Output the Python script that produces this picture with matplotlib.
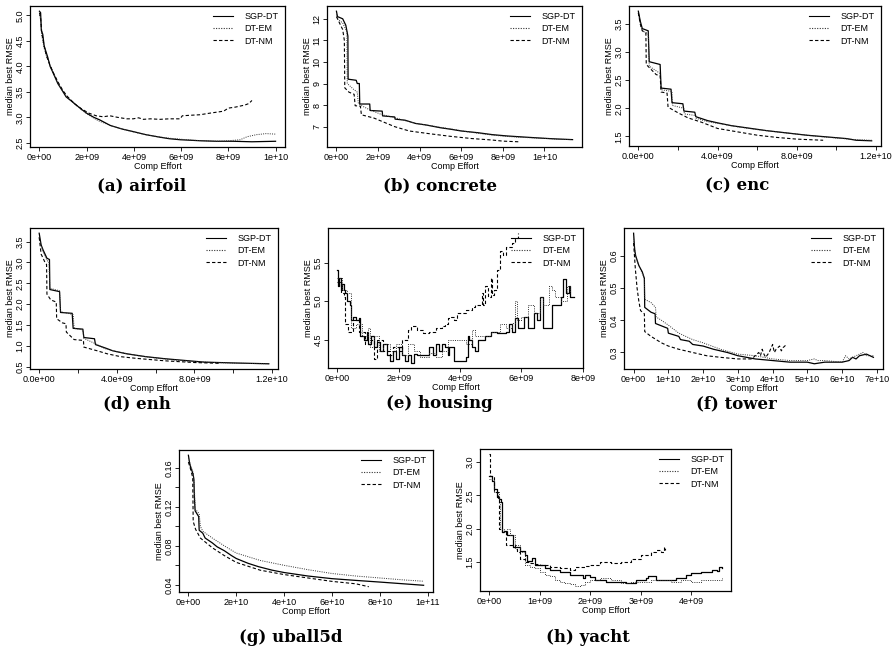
import matplotlib
matplotlib.use('Agg')
import matplotlib.pyplot as plt
import numpy as np

# Figure size in pixels (saved at 100 dpi)
W, H = 893, 650

# ---------------------------------------------------------------
# Data: (comp effort, median best RMSE).
# Comp effort is in units of 1e9 (uball5d: 1e10).
# Repeated x values mark the vertical drops of the step curves.
# ---------------------------------------------------------------
series_labels = ['SGP-DT', 'DT-EM', 'DT-NM']

# (a) airfoil
airfoil_sgp = [(0, 5.08), (0.05, 5.05), (0.08, 4.7), (0.14, 4.63), (0.2, 4.4), (0.24, 4.34),
               (0.35, 4.18), (0.45, 4.0), (0.57, 3.88), (0.78, 3.66), (1.0, 3.5), (1.13, 3.4),
               (1.35, 3.32), (1.56, 3.24), (1.8, 3.15), (2.0, 3.08), (2.3, 3.0), (2.55, 2.95),
               (3.0, 2.84), (3.5, 2.77), (3.97, 2.72), (4.5, 2.66), (5.1, 2.61), (5.5, 2.58),
               (5.96, 2.56), (6.4, 2.55), (6.8, 2.54), (7.5, 2.53), (8.2, 2.53), (9.0, 2.52),
               (10.0, 2.53)]
airfoil_em = [(0, 5.0), (0.06, 4.9), (0.1, 4.6), (0.2, 4.35), (0.3, 4.2), (0.45, 4.02),
              (0.6, 3.86), (0.8, 3.66), (1.0, 3.5), (1.2, 3.38), (1.5, 3.26), (1.8, 3.14),
              (2.1, 3.04), (2.5, 2.93), (3.0, 2.84), (3.5, 2.77), (4.0, 2.71), (4.5, 2.66),
              (5.0, 2.62), (5.5, 2.59), (6.0, 2.57), (6.5, 2.55), (7.0, 2.54), (7.5, 2.53),
              (8.0, 2.54), (8.5, 2.56), (8.8, 2.62), (9.2, 2.66), (9.6, 2.68), (10.0, 2.67)]
airfoil_nm = [(0, 5.05), (0.05, 4.95), (0.1, 4.65), (0.2, 4.4), (0.3, 4.2), (0.45, 4.02),
              (0.6, 3.86), (0.8, 3.68), (1.0, 3.52), (1.2, 3.4), (1.5, 3.26), (1.8, 3.16),
              (2.1, 3.08), (2.4, 3.03), (2.7, 3.01), (2.98, 3.03), (3.3, 3.0), (3.7, 2.97),
              (3.97, 2.97), (4.2, 2.99), (4.4, 2.96), (4.7, 2.97), (5.1, 2.96), (5.5, 2.97),
              (5.96, 2.97), (6.05, 3.03), (6.4, 3.04), (6.8, 3.05), (7.2, 3.08), (7.5, 3.1),
              (7.8, 3.12), (8.0, 3.18), (8.3, 3.2), (8.5, 3.22), (8.7, 3.24), (8.87, 3.27),
              (9.0, 3.33)]

# (b) concrete
concrete_sgp = [(0, 12.35), (0.05, 12.1), (0.3, 12.0), (0.45, 11.7), (0.55, 11.2), (0.56, 9.2),
                (0.95, 9.15), (1.0, 9.0), (1.1, 9.0), (1.12, 8.05), (1.6, 8.05), (1.62, 7.75),
                (2.2, 7.72), (2.22, 7.5), (2.8, 7.45), (2.82, 7.35), (3.3, 7.3), (3.8, 7.15),
                (4.3, 7.08), (5.0, 6.95), (5.5, 6.88), (6.0, 6.8), (6.8, 6.72), (7.5, 6.63),
                (8.2, 6.57), (9.0, 6.52), (10.0, 6.46), (10.6, 6.43), (11.35, 6.4)]
concrete_em = [(0, 12.2), (0.05, 12.0), (0.3, 11.8), (0.5, 11.4), (0.52, 9.0), (0.8, 8.75),
               (1.0, 8.6), (1.05, 8.1), (1.15, 8.0), (1.6, 7.78), (2.2, 7.55), (2.8, 7.42),
               (3.3, 7.28), (3.8, 7.15), (4.5, 7.05), (5.0, 6.97), (5.6, 6.88), (6.2, 6.78),
               (7.0, 6.67), (7.6, 6.6), (8.3, 6.54), (9.0, 6.5), (10.0, 6.46), (10.6, 6.42),
               (11.3, 6.4)]
concrete_nm = [(0, 12.1), (0.1, 11.9), (0.3, 11.5), (0.38, 11.0), (0.4, 8.8), (0.6, 8.6),
               (0.85, 8.5), (0.9, 7.97), (1.15, 7.95), (1.2, 7.55), (1.8, 7.4), (2.3, 7.2),
               (2.8, 7.0), (3.5, 6.8), (4.5, 6.67), (5.5, 6.55), (6.5, 6.45), (7.5, 6.38),
               (8.0, 6.33), (8.75, 6.3)]

# (c) enc
enc_sgp = [(0, 3.73), (0.1, 3.55), (0.2, 3.42), (0.5, 3.38), (0.55, 2.83), (1.1, 2.78),
           (1.15, 2.36), (1.65, 2.34), (1.7, 2.1), (2.25, 2.08), (2.3, 1.95), (2.85, 1.93),
           (2.9, 1.85), (3.5, 1.78), (4.0, 1.74), (4.7, 1.69), (5.5, 1.65), (6.5, 1.6),
           (7.5, 1.56), (8.5, 1.52), (9.5, 1.49), (10.5, 1.46), (11.0, 1.43), (11.78, 1.42)]
enc_em = [(0, 3.7), (0.1, 3.5), (0.2, 3.38), (0.5, 3.32), (0.55, 2.75), (1.1, 2.62),
          (1.15, 2.33), (1.7, 2.3), (1.72, 2.05), (2.3, 2.0), (2.32, 1.9), (2.9, 1.87),
          (2.92, 1.82), (3.5, 1.76), (4.2, 1.72), (5.0, 1.67), (6.0, 1.62), (7.0, 1.58),
          (8.0, 1.54), (9.0, 1.5), (10.0, 1.47), (11.0, 1.44), (11.78, 1.43)]
enc_nm = [(0, 3.7), (0.1, 3.5), (0.2, 3.38), (0.38, 3.35), (0.4, 2.78), (0.9, 2.6), (1.1, 2.58),
          (1.15, 2.29), (1.45, 2.27), (1.5, 2.02), (2.0, 1.92), (2.5, 1.83), (3.2, 1.75),
          (4.0, 1.64), (5.0, 1.58), (6.0, 1.52), (7.0, 1.48), (8.0, 1.45), (9.33, 1.43)]

# (d) enh
enh_sgp = [(0, 3.7), (0.1, 3.42), (0.2, 3.3), (0.4, 3.1), (0.53, 3.07), (0.55, 2.35),
           (1.05, 2.3), (1.1, 1.8), (1.7, 1.78), (1.75, 1.42), (2.25, 1.4), (2.3, 1.2),
           (2.85, 1.17), (2.9, 1.03), (3.4, 0.95), (3.8, 0.88), (4.5, 0.81), (5.5, 0.74),
           (6.5, 0.69), (7.5, 0.65), (8.5, 0.61), (10.0, 0.59), (11.83, 0.57)]
enh_em = [(0, 3.6), (0.1, 3.4), (0.2, 3.25), (0.4, 3.05), (0.5, 3.0), (0.55, 2.38),
          (1.05, 2.32), (1.1, 1.82), (1.75, 1.75), (1.8, 1.42), (2.25, 1.38), (2.3, 1.18),
          (2.9, 1.05), (3.4, 0.93), (4.0, 0.86), (5.0, 0.77), (6.0, 0.71), (7.0, 0.66),
          (8.0, 0.62), (9.0, 0.6), (10.5, 0.58), (11.83, 0.57)]
enh_nm = [(0, 3.6), (0.1, 3.2), (0.3, 3.0), (0.38, 2.95), (0.4, 2.24), (0.6, 2.1), (0.88, 2.05),
          (0.9, 1.65), (1.2, 1.55), (1.38, 1.53), (1.4, 1.33), (1.8, 1.15), (2.28, 1.13),
          (2.3, 0.97), (3.0, 0.88), (3.5, 0.81), (4.2, 0.74), (5.0, 0.7), (6.5, 0.64),
          (8.0, 0.6), (9.33, 0.58)]

# (e) housing
housing_sgp = [(0, 5.4), (0.03, 5.2), (0.05, 5.3), (0.1, 5.15), (0.15, 5.22), (0.2, 5.15),
               (0.25, 5.1), (0.3, 5.0), (0.4, 4.95), (0.45, 4.75), (0.5, 4.8), (0.6, 4.75),
               (0.7, 4.78), (0.75, 4.55), (0.85, 4.5), (0.95, 4.6), (1.0, 4.45), (1.1, 4.55),
               (1.2, 4.4), (1.3, 4.47), (1.4, 4.35), (1.5, 4.45), (1.6, 4.3), (1.7, 4.22),
               (1.8, 4.35), (1.9, 4.25), (2.0, 4.4), (2.1, 4.3), (2.2, 4.22), (2.3, 4.3),
               (2.4, 4.2), (2.5, 4.32), (2.6, 4.3), (2.8, 4.3), (3.0, 4.4), (3.1, 4.3),
               (3.2, 4.45), (3.3, 4.35), (3.4, 4.45), (3.5, 4.4), (3.6, 4.3), (3.65, 4.4),
               (3.8, 4.22), (3.9, 4.22), (4.2, 4.27), (4.25, 4.55), (4.3, 4.5), (4.4, 4.4),
               (4.5, 4.35), (4.6, 4.5), (4.8, 4.55), (5.0, 4.6), (5.2, 4.58), (5.5, 4.6),
               (5.6, 4.7), (5.7, 4.6), (5.8, 4.78), (5.9, 4.65), (6.1, 4.8), (6.2, 4.65),
               (6.4, 4.85), (6.5, 4.75), (6.6, 5.05), (6.7, 4.65), (6.9, 4.65), (7.0, 4.95),
               (7.2, 4.95), (7.3, 5.05), (7.35, 5.28), (7.45, 5.1), (7.55, 5.2), (7.6, 5.05),
               (7.7, 5.05)]
housing_em = [(0, 5.3), (0.15, 5.15), (0.3, 5.1), (0.45, 4.65), (0.6, 4.7), (0.8, 4.55),
              (1.0, 4.65), (1.05, 4.4), (1.2, 4.55), (1.35, 4.35), (1.5, 4.45), (1.7, 4.35),
              (1.9, 4.45), (2.1, 4.3), (2.3, 4.45), (2.5, 4.35), (2.7, 4.28), (3.0, 4.33),
              (3.2, 4.28), (3.4, 4.35), (3.6, 4.5), (3.8, 4.5), (4.0, 4.5), (4.2, 4.45),
              (4.4, 4.62), (4.5, 4.55), (4.7, 4.55), (5.0, 4.6), (5.3, 4.7), (5.5, 4.65),
              (5.7, 4.72), (5.8, 5.0), (5.85, 4.75), (6.0, 4.8), (6.2, 4.95), (6.4, 4.85),
              (6.6, 5.05), (6.7, 4.95), (6.9, 5.2), (7.0, 5.15), (7.1, 5.05), (7.3, 5.0),
              (7.5, 5.2), (7.6, 5.1)]
housing_nm = [(0, 5.25), (0.1, 5.1), (0.2, 5.05), (0.25, 4.7), (0.35, 4.6), (0.5, 4.75),
              (0.7, 4.6), (0.9, 4.45), (1.1, 4.5), (1.2, 4.25), (1.3, 4.5), (1.5, 4.35),
              (1.7, 4.3), (1.8, 4.4), (2.0, 4.35), (2.1, 4.5), (2.2, 4.5), (2.3, 4.62),
              (2.4, 4.68), (2.6, 4.62), (2.8, 4.58), (3.0, 4.6), (3.2, 4.65), (3.4, 4.68),
              (3.5, 4.7), (3.6, 4.78), (3.7, 4.8), (3.8, 4.75), (3.9, 4.85), (4.0, 4.85),
              (4.2, 4.88), (4.4, 4.92), (4.5, 4.95), (4.7, 5.1), (4.75, 4.95), (4.8, 5.2),
              (4.9, 5.05), (5.0, 5.3), (5.05, 5.08), (5.1, 5.15), (5.2, 5.4), (5.3, 5.65),
              (5.4, 5.6), (5.5, 5.7), (5.7, 5.75), (5.8, 5.82), (5.9, 5.88)]

# (f) tower
tower_sgp = [(0, 0.67), (0.3, 0.62), (0.6, 0.6), (1.5, 0.57), (2.5, 0.55), (3.1, 0.53),
             (3.2, 0.44), (5.0, 0.425), (6.2, 0.42), (6.3, 0.39), (9.8, 0.375), (10, 0.36),
             (13, 0.35), (13.5, 0.34), (16, 0.335), (17, 0.325), (20, 0.32), (23, 0.31),
             (27, 0.3), (30, 0.29), (35, 0.28), (40, 0.275), (45, 0.27), (50, 0.27),
             (52, 0.265), (55, 0.27), (58, 0.27), (60, 0.27), (62, 0.275), (63, 0.285),
             (64, 0.28), (65, 0.29), (67, 0.295), (68, 0.29), (69, 0.285)]
tower_em = [(0, 0.66), (0.5, 0.6), (1.5, 0.57), (3.1, 0.53), (3.2, 0.465), (5, 0.455),
            (6.3, 0.44), (6.5, 0.41), (8, 0.4), (10, 0.385), (13, 0.36), (15, 0.35),
            (17, 0.34), (20, 0.33), (25, 0.31), (30, 0.295), (35, 0.29), (40, 0.28),
            (45, 0.275), (50, 0.275), (52, 0.28), (53, 0.275), (55, 0.275), (60, 0.27),
            (61, 0.29), (62, 0.28), (65, 0.295), (66, 0.3), (67, 0.29), (69, 0.29)]
tower_nm = [(0, 0.64), (0.5, 0.56), (1.0, 0.5), (1.5, 0.46), (2.0, 0.43), (3.1, 0.42),
            (3.2, 0.365), (5, 0.35), (8, 0.33), (10, 0.32), (13, 0.31), (17, 0.3),
            (21, 0.29), (25, 0.285), (30, 0.28), (34, 0.28), (35, 0.29), (36, 0.3),
            (36.5, 0.29), (37, 0.31), (37.5, 0.295), (38, 0.285), (39, 0.3), (40, 0.325),
            (40.5, 0.3), (41, 0.31), (42, 0.32), (42.5, 0.305), (43, 0.315), (44, 0.325)]

# (g) uball5d  (x in units of 1e10)
uball_sgp = [(0, 0.173), (0.05, 0.165), (0.1, 0.16), (0.15, 0.157), (0.2, 0.153), (0.23, 0.148),
             (0.25, 0.13), (0.28, 0.116), (0.43, 0.11), (0.45, 0.096), (0.6, 0.093), (0.7, 0.088),
             (1.0, 0.083), (1.2, 0.079), (1.5, 0.075), (1.8, 0.07), (2.0, 0.067), (2.5, 0.062),
             (2.93, 0.0586), (3.5, 0.055), (4.0, 0.0526), (5.0, 0.049), (6.0, 0.0463),
             (7.0, 0.0445), (8.0, 0.0428), (9.0, 0.041), (9.83, 0.0395)]
uball_em = [(0, 0.17), (0.1, 0.162), (0.2, 0.155), (0.25, 0.14), (0.28, 0.118), (0.45, 0.113),
            (0.5, 0.1), (0.6, 0.095), (1.0, 0.088), (1.5, 0.08), (2.0, 0.0726), (3.0, 0.065),
            (4.0, 0.06), (5.0, 0.0555), (6.0, 0.0516), (7.0, 0.049), (8.0, 0.047), (9.0, 0.045),
            (9.8, 0.0437)]
uball_nm = [(0, 0.166), (0.1, 0.158), (0.18, 0.15), (0.2, 0.105), (0.3, 0.097), (0.5, 0.088),
            (0.7, 0.084), (1.0, 0.078), (1.5, 0.07), (2.0, 0.063), (3.0, 0.055), (4.0, 0.0505),
            (5.0, 0.047), (6.0, 0.0435), (7.0, 0.041), (7.54, 0.038)]

# (h) yacht
yacht_sgp = [(0, 2.8), (0.05, 2.72), (0.1, 2.6), (0.15, 2.47), (0.2, 2.45), (0.23, 2.4),
             (0.25, 1.95), (0.3, 1.97), (0.35, 1.9), (0.45, 1.9), (0.46, 1.73), (0.6, 1.66),
             (0.7, 1.6), (0.75, 1.52), (0.85, 1.56), (0.9, 1.45), (1.0, 1.45), (1.1, 1.4),
             (1.2, 1.38), (1.4, 1.35), (1.6, 1.3), (1.75, 1.3), (1.85, 1.25), (1.9, 1.3),
             (2.0, 1.27), (2.1, 1.22), (2.3, 1.2), (2.5, 1.2), (2.7, 1.18), (2.9, 1.22),
             (3.1, 1.25), (3.15, 1.28), (3.3, 1.22), (3.5, 1.22), (3.7, 1.25), (3.9, 1.3),
             (4.0, 1.33), (4.2, 1.35), (4.4, 1.38), (4.5, 1.36), (4.55, 1.42), (4.6, 1.4)]
yacht_em = [(0, 2.75), (0.1, 2.55), (0.2, 2.4), (0.22, 2.0), (0.3, 1.95), (0.35, 2.0),
            (0.4, 1.9), (0.5, 1.75), (0.6, 1.65), (0.7, 1.45), (0.8, 1.42), (0.9, 1.4),
            (1.0, 1.35), (1.1, 1.3), (1.2, 1.28), (1.3, 1.22), (1.4, 1.2), (1.5, 1.18),
            (1.6, 1.17), (1.7, 1.14), (1.8, 1.15), (1.9, 1.2), (2.0, 1.22), (2.2, 1.25),
            (2.4, 1.22), (2.6, 1.18), (2.8, 1.2), (3.0, 1.2), (3.2, 1.23), (3.4, 1.22),
            (3.6, 1.2), (3.8, 1.22), (4.0, 1.2), (4.2, 1.22), (4.4, 1.23), (4.6, 1.25)]
yacht_nm = [(0, 3.12), (0.01, 2.8), (0.1, 2.55), (0.18, 2.45), (0.2, 2.0), (0.25, 1.95),
            (0.3, 1.95), (0.33, 1.75), (0.5, 1.7), (0.55, 1.65), (0.6, 1.55), (0.7, 1.5),
            (0.8, 1.48), (0.9, 1.47), (1.0, 1.45), (1.2, 1.42), (1.4, 1.4), (1.6, 1.38),
            (1.7, 1.42), (1.9, 1.43), (2.0, 1.45), (2.2, 1.5), (2.4, 1.48), (2.6, 1.5),
            (2.8, 1.55), (3.0, 1.6), (3.2, 1.65), (3.3, 1.68), (3.4, 1.65), (3.45, 1.72),
            (3.48, 1.68)]

# Tick positions / labels per panel
x_ticks_a = [0, 2, 4, 6, 8, 10]
x_labels_a = ['0e+00', '2e+09', '4e+09', '6e+09', '8e+09', '1e+10']
x_ticks_b = [0, 2, 4, 6, 8, 10]
x_labels_b = ['0e+00', '2e+09', '4e+09', '6e+09', '8e+09', '1e+10']
x_ticks_cd = [0, 2, 4, 6, 8, 10, 12]
x_labels_cd = ['0.0e+00', '', '4.0e+09', '', '8.0e+09', '', '1.2e+10']
x_ticks_e = [0, 2, 4, 6, 8]
x_labels_e = ['0e+00', '2e+09', '4e+09', '6e+09', '8e+09']
x_ticks_f = [0, 10, 20, 30, 40, 50, 60, 70]
x_labels_f = ['0e+00', '1e+10', '2e+10', '3e+10', '4e+10', '5e+10', '6e+10', '7e+10']
x_ticks_g = [0, 2, 4, 6, 8, 10]
x_labels_g = ['0e+00', '2e+10', '4e+10', '6e+10', '8e+10', '1e+11']
x_ticks_h = [0, 1, 2, 3, 4]
x_labels_h = ['0e+00', '1e+09', '2e+09', '3e+09', '4e+09']

y_ticks_a = [2.5, 3.0, 3.5, 4.0, 4.5, 5.0]
y_labels_a = ['2.5', '3.0', '3.5', '4.0', '4.5', '5.0']
y_ticks_b = [7, 8, 9, 10, 11, 12]
y_labels_b = ['7', '8', '9', '10', '11', '12']
y_ticks_c = [1.5, 2.0, 2.5, 3.0, 3.5]
y_labels_c = ['1.5', '2.0', '2.5', '3.0', '3.5']
y_ticks_d = [0.5, 1.0, 1.5, 2.0, 2.5, 3.0, 3.5]
y_labels_d = ['0.5', '1.0', '1.5', '2.0', '2.5', '3.0', '3.5']
y_ticks_e = [4.5, 5.0, 5.5]
y_labels_e = ['4.5', '5.0', '5.5']
y_ticks_f = [0.3, 0.4, 0.5, 0.6]
y_labels_f = ['0.3', '0.4', '0.5', '0.6']
y_ticks_g = [0.04, 0.06, 0.08, 0.10, 0.12, 0.14, 0.16]
y_labels_g = ['0.04', '', '0.08', '', '0.12', '', '0.16']
y_ticks_h = [1.5, 2.0, 2.5, 3.0]
y_labels_h = ['1.5', '2.0', '2.5', '3.0']

captions = ['(a) airfoil', '(b) concrete', '(c) enc', '(d) enh',
            '(e) housing', '(f) tower', '(g) uball5d', '(h) yacht']

# Panel boxes in pixels: left, right, top, bottom ; caption centre x, y
boxes = [(30, 285, 6, 147, 142, 186),
         (327, 582, 6, 147, 440, 186),
         (629, 881, 6, 146, 737, 186),
         (30, 278, 228, 369, 137, 404),
         (328, 583, 228, 368, 439, 404),
         (624, 883, 228, 369, 736, 404),
         (179, 433, 450, 592, 291, 638),
         (480, 731, 449, 591, 588, 638)]

panels = [
    ((airfoil_sgp, airfoil_em, airfoil_nm), x_ticks_a, x_labels_a, y_ticks_a, y_labels_a, 'default'),
    ((concrete_sgp, concrete_em, concrete_nm), x_ticks_b, x_labels_b, y_ticks_b, y_labels_b, 'default'),
    ((enc_sgp, enc_em, enc_nm), x_ticks_cd, x_labels_cd, y_ticks_c, y_labels_c, 'default'),
    ((enh_sgp, enh_em, enh_nm), x_ticks_cd, x_labels_cd, y_ticks_d, y_labels_d, 'default'),
    ((housing_sgp, housing_em, housing_nm), x_ticks_e, x_labels_e, y_ticks_e, y_labels_e, 'steps-post'),
    ((tower_sgp, tower_em, tower_nm), x_ticks_f, x_labels_f, y_ticks_f, y_labels_f, 'default'),
    ((uball_sgp, uball_em, uball_nm), x_ticks_g, x_labels_g, y_ticks_g, y_labels_g, 'default'),
    ((yacht_sgp, yacht_em, yacht_nm), x_ticks_h, x_labels_h, y_ticks_h, y_labels_h, 'steps-post'),
]

# R-like line types: solid, dotted, dashed
line_styles = ['-', (0, (1, 1.3)), (0, (3, 2))]
line_widths = [0.9, 0.7, 0.8]
line_colors = ['black', '#333333', 'black']

plt.rcParams['font.family'] = ['Liberation Sans', 'DejaVu Sans']

fig = plt.figure(figsize=(W / 100, H / 100), dpi=100)

for (series, xt, xl, yt, yl, dstyle), (l, r, t, b, cx, cy), cap in zip(panels, boxes, captions):
    ax = fig.add_axes([l / W, 1 - b / H, (r - l) / W, (b - t) / H])
    for pts, lab, ls, lw, col in zip(series, series_labels, line_styles, line_widths, line_colors):
        arr = np.array(pts).T
        ax.plot(arr[0], arr[1], color=col, linestyle=ls, linewidth=lw,
                drawstyle=dstyle, label=lab)
    ax.margins(x=0.04, y=0.04)
    ax.set_xticks(xt)
    ax.set_xticklabels(xl)
    ax.set_yticks(yt)
    ax.set_yticklabels(yl, rotation=90, va='center')
    ax.tick_params(direction='out', length=3, width=0.6, labelsize=6.5, pad=1)
    for sp in ax.spines.values():
        sp.set_linewidth(0.9)
    ax.set_xlabel('Comp Effort', fontsize=6.5, labelpad=0)
    ax.set_ylabel('median best RMSE', fontsize=6.5, labelpad=0.5)
    leg = ax.legend(loc='upper right', frameon=False, fontsize=6.5, handlelength=2.2,
                    handletextpad=1.3, labelspacing=0.35, borderaxespad=0.3)
    for h in leg.get_lines():
        h.set_linewidth(0.8)
    # bold serif caption below the panel
    fig.text(cx / W, 1 - cy / H, cap, ha='center', va='center', fontsize=12,
             fontweight='bold', family='DejaVu Serif')

fig.savefig('out.png', dpi=100)
